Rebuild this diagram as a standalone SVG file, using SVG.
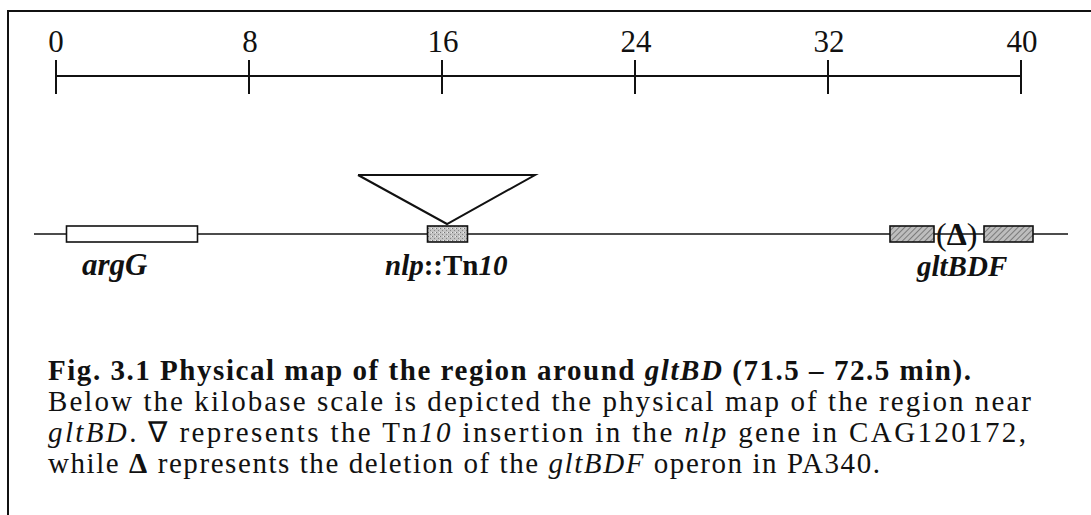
<svg xmlns="http://www.w3.org/2000/svg" width="1091" height="515" viewBox="0 0 1091 515">
<style>
text{font-family:"Liberation Serif","Times New Roman",serif;fill:#111}
.ln{stroke:#111;stroke-width:2;fill:none}
.thin{stroke:#111;stroke-width:1.6;fill:none}
.num{font-size:31px;text-anchor:middle}
.gene{font-size:29px;font-weight:bold;font-style:italic}
.cap{font-size:29px}
</style>
<defs>
<pattern id="hatch" width="4" height="4" patternUnits="userSpaceOnUse" patternTransform="rotate(45)">
<rect width="4" height="4" fill="#bdbdbd"/>
<line x1="0" y1="0" x2="0" y2="4" stroke="#555" stroke-width="1.3"/>
</pattern>
<pattern id="stip" width="4" height="4" patternUnits="userSpaceOnUse">
<rect width="4" height="4" fill="#c4c4c4"/>
<rect x="0" y="0" width="1" height="1" fill="#777"/>
<rect x="2" y="2" width="1" height="1" fill="#888"/>
<rect x="3" y="0" width="1" height="1" fill="#eee"/>
</pattern>
</defs>
<g id="frame">
<line class="ln" x1="7" y1="11" x2="1091" y2="11"/>
<line class="ln" x1="8" y1="11" x2="8" y2="515"/>
</g>
<g id="scale">
<line class="ln" x1="56" y1="76" x2="1021" y2="76"/>
<line class="ln" x1="56" y1="60" x2="56" y2="94"/>
<line class="ln" x1="249" y1="60" x2="249" y2="94"/>
<line class="ln" x1="442" y1="60" x2="442" y2="94"/>
<line class="ln" x1="635" y1="60" x2="635" y2="94"/>
<line class="ln" x1="828" y1="60" x2="828" y2="94"/>
<line class="ln" x1="1021" y1="60" x2="1021" y2="94"/>
<text class="num" x="56" y="52">0</text>
<text class="num" x="250" y="52">8</text>
<text class="num" x="443" y="52">16</text>
<text class="num" x="636" y="52">24</text>
<text class="num" x="829" y="52">32</text>
<text class="num" x="1022" y="52">40</text>
</g>
<g id="connectors">
<line class="thin" x1="34" y1="234" x2="1068" y2="234"/>
<polyline class="ln" points="358,175 535,175 447,224 358,175"/>
</g>
<g id="argG">
<rect x="66.5" y="226" width="131" height="16" fill="#fff" stroke="#111" stroke-width="1.6"/>
<text class="gene" x="82" y="275" style="font-size:31px">argG</text>
</g>
<g id="nlp">
<rect x="427.5" y="226" width="40" height="16" fill="url(#stip)" stroke="#111" stroke-width="1.6"/>
<text x="385" y="275" style="font-size:29px;font-weight:bold"><tspan font-style="italic">nlp</tspan>::Tn<tspan font-style="italic">10</tspan></text>
</g>
<g id="gltBDF">
<rect x="890" y="226" width="44" height="16" fill="url(#hatch)" stroke="#111" stroke-width="1.6"/>
<text x="936" y="245" style="font-size:32px">(<tspan font-weight="bold">Δ</tspan>)</text>
<rect x="984" y="226" width="49" height="16" fill="url(#hatch)" stroke="#111" stroke-width="1.6"/>
<text class="gene" x="917" y="276">gltBDF</text>
</g>
<g id="caption">
<text class="cap" x="48" y="380" font-weight="bold" textLength="923" lengthAdjust="spacing">Fig. 3.1 Physical map of the region around <tspan font-style="italic">gltBD</tspan> (71.5 – 72.5 min).</text>
<text class="cap" x="48" y="411" textLength="983" lengthAdjust="spacing">Below the kilobase scale is depicted the physical map of the region near</text>
<text class="cap" x="48" y="442" textLength="978" lengthAdjust="spacing"><tspan font-style="italic">gltBD</tspan>.  ∇ represents the Tn<tspan font-style="italic">10</tspan> insertion in the <tspan font-style="italic">nlp</tspan> gene in CAG120172,</text>
<text class="cap" x="48" y="473" textLength="832" lengthAdjust="spacing">while <tspan font-weight="bold">Δ</tspan> represents the deletion of the <tspan font-style="italic">gltBDF</tspan> operon in PA340.</text>
</g>
</svg>
